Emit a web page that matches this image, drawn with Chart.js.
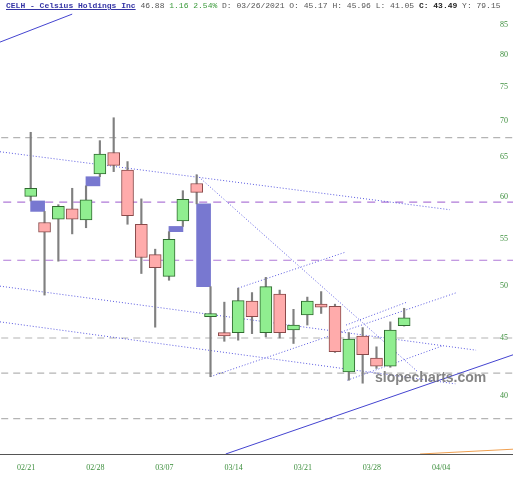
<!DOCTYPE html>
<html>
<head>
<meta charset="utf-8">
<script src="https://cdn.jsdelivr.net/npm/chart.js@4"></script>
<style>
  html, body { margin: 0; padding: 0; background: #fff; }
  #wrap { position: relative; width: 513px; height: 480px; overflow: hidden; }
  #head { position: absolute; left: 6px; top: 1px; font: 8px "Liberation Mono", monospace; line-height: 10px; color: #555; white-space: pre; z-index: 2; }
  #head .sym { color: #3535a5; font-weight: bold; text-decoration: underline; }
  #head .up { color: #3a9a3a; }
  #head b { color: #222; }
  #mark { position: absolute; left: 375px; top: 369px; font: bold 14px "Liberation Sans", Arial, sans-serif; color: rgba(110,110,110,0.85); z-index: 2; }
</style>
</head>
<body>
<div id="wrap">
  <canvas id="chart" width="513" height="480"></canvas>
  <div id="head"><span class="sym">CELH - Celsius Holdings Inc</span> 46.88 <span class="up">1.16 2.54%</span> D: 03/26/2021 O: 45.17 H: 45.96 L: 41.05 <b>C: 43.49</b> Y: 79.15</div>
  <div id="mark">slopecharts.com</div>
</div>
<script>
/* ===== data ===== */
const dates = ['02/22','02/23','02/24','02/25','02/26','03/01','03/02','03/03','03/04','03/05',
               '03/08','03/09','03/10','03/11','03/12','03/15','03/16','03/17','03/18','03/19',
               '03/22','03/23','03/24','03/25','03/26','03/29','03/30','03/31'];
const opens  = [60.0, 56.9, 57.3, 58.5, 57.2, 62.8, 65.6, 63.3, 56.7, 53.3,
                51.0, 57.1, 61.6, 47.0, 45.5, 45.5, 48.5, 45.5, 49.2, 45.75,
                47.15, 48.2, 48.0, 42.0, 45.17, 43.2, 42.5, 46.15];
const highs  = [68.35, 58.2, 59.0, 61.0, 61.3, 67.2, 70.4, 64.4, 59.7, 53.9,
                55.85, 60.7, 62.7, 49.95, 48.4, 49.8, 49.35, 50.9, 49.6, 47.7,
                48.9, 49.45, 48.2, 45.5, 45.96, 44.2, 46.5, 47.8];
const lows   = [59.45, 49.1, 52.6, 55.6, 56.3, 62.45, 63.1, 56.7, 51.3, 46.0,
                50.6, 56.45, 59.1, 41.6, 44.7, 44.8, 45.4, 45.1, 45.0, 44.5,
                46.2, 47.3, 43.7, 41.3, 41.05, 42.3, 42.4, 46.1];
const closes = [61.0, 55.8, 58.8, 57.3, 59.6, 65.4, 63.9, 57.7, 53.0, 51.9,
                55.0, 59.65, 60.5, 47.3, 45.2, 48.55, 47.0, 49.95, 45.5, 46.2,
                48.5, 47.9, 43.77, 44.9, 43.49, 42.5, 45.72, 46.88];

const yTicks = [40, 45, 50, 55, 60, 65, 70, 75, 80, 85];
const xTickLabels = ['02/21', '02/28', '03/07', '03/14', '03/21', '03/28', '04/04'];

const grayLevels = [67.6, 45.0, 41.9, 38.2];
const purpleLevels = [59.3, 52.7];

// drawn lines: [bar0, price0, bar1, price1]
const solidLines = [[-2.22, 82.1, 3.0, 86.9], [14.1, 35.55, 34.9, 43.5]];
const dottedLines = [
  [-2.22, 65.7, 30.3, 58.4],
  [-2.22, 50.0, 32.2, 43.9],
  [-2.22, 46.5, 30.7, 41.0],
  [12.0, 62.67, 28.0, 42.0],
  [13.0, 41.6, 30.8, 49.35],
  [15.0, 49.8, 22.8, 53.6],
  [22.8, 46.2, 27.2, 48.4],
  [22.9, 41.3, 29.8, 44.3]
];
const orangeLine = [28.15, 35.55, 34.9, 35.9];

/* ===== build datasets ===== */
const green = '#3d8f3d';
const up = dates.map((d, i) => closes[i] >= opens[i]);

const bodies = dates.map((d, i) => ({ x: i, y: [opens[i], closes[i]] }));
const wicks = dates.map((d, i) => ({ x: i, y: [lows[i], highs[i]] }));

// price gaps between neighbouring candles
const gaps = [];
for (let i = 0; i < dates.length - 1; i++) {
  if (lows[i] > highs[i + 1]) gaps.push({ x: i + 0.5, y: [highs[i + 1], lows[i]] });
  else if (highs[i] < lows[i + 1]) gaps.push({ x: i + 0.5, y: [highs[i], lows[i + 1]] });
}

function seg(s, color, dash, width) {
  return {
    type: 'line',
    data: [{ x: s[0], y: s[1] }, { x: s[2], y: s[3] }],
    borderColor: color, borderDash: dash, borderWidth: width,
    pointRadius: 0, order: 3
  };
}
function level(v, color, dash) {
  return seg([-3, v, 36, v], color, dash, 1.2);
}

const datasets = [
  {
    type: 'bar', data: bodies, order: 0, grouped: false, barThickness: 12,
    backgroundColor: up.map(u => u ? '#90ee90' : '#ffabab'),
    borderColor: up.map(u => u ? '#2f6a2f' : '#8a4a4a'),
    borderWidth: 1, borderSkipped: false
  },
  {
    type: 'bar', data: wicks, order: 1, grouped: false, barThickness: 1.5,
    backgroundColor: '#808080'
  },
  {
    type: 'bar', data: gaps, order: 1, grouped: false, barThickness: 14,
    backgroundColor: '#7878d0'
  }
];
dottedLines.forEach(s => datasets.push(seg(s, '#5a5ae0', [1, 2], 1)));
solidLines.forEach(s => datasets.push(seg(s, '#4444d0', [], 1)));
datasets.push(seg(orangeLine, '#f0a050', [], 1));
grayLevels.forEach(v => datasets.push(level(v, '#b4b4b4', [7, 5])));
purpleLevels.forEach(v => datasets.push(level(v, '#b07ad8', [8, 6])));

const tickFont = { family: '"Liberation Serif", serif', size: 8 };

function noPad(s) {
  s.paddingTop = 0; s.paddingBottom = 0; s.paddingLeft = 0; s.paddingRight = 0;
}

new Chart(document.getElementById('chart'), {
  type: 'bar',
  data: { datasets: datasets },
  options: {
    responsive: false,
    animation: false,
    layout: { padding: 0 },
    plugins: { legend: { display: false }, tooltip: { enabled: false } },
    scales: {
      x: {
        type: 'linear', min: -2.22, max: 34.87, bounds: 'data', offset: false,
        grid: { display: false, drawTicks: false },
        border: { display: true, color: '#555', width: 1 },
        afterBuildTicks: s => { s.ticks = xTickLabels.map((t, k) => ({ value: k * 5 - 0.33 })); },
        afterFit: s => { s.height = 26; noPad(s); },
        ticks: { padding: 9, color: green, font: tickFont, autoSkip: false, maxRotation: 0,
                 callback: (v, i) => xTickLabels[i] }
      },
      y: {
        type: 'logarithmic', position: 'right', min: 35.55, max: 89.43, bounds: 'data',
        grid: { display: false, drawTicks: false },
        border: { display: false },
        afterBuildTicks: s => { s.ticks = yTicks.map(v => ({ value: v })); },
        afterFit: s => { s.width = 0; noPad(s); },
        ticks: { mirror: true, padding: -5, color: green, font: tickFont, autoSkip: false,
                 callback: v => String(v) }
      }
    }
  }
});
</script>
</body>
</html>
